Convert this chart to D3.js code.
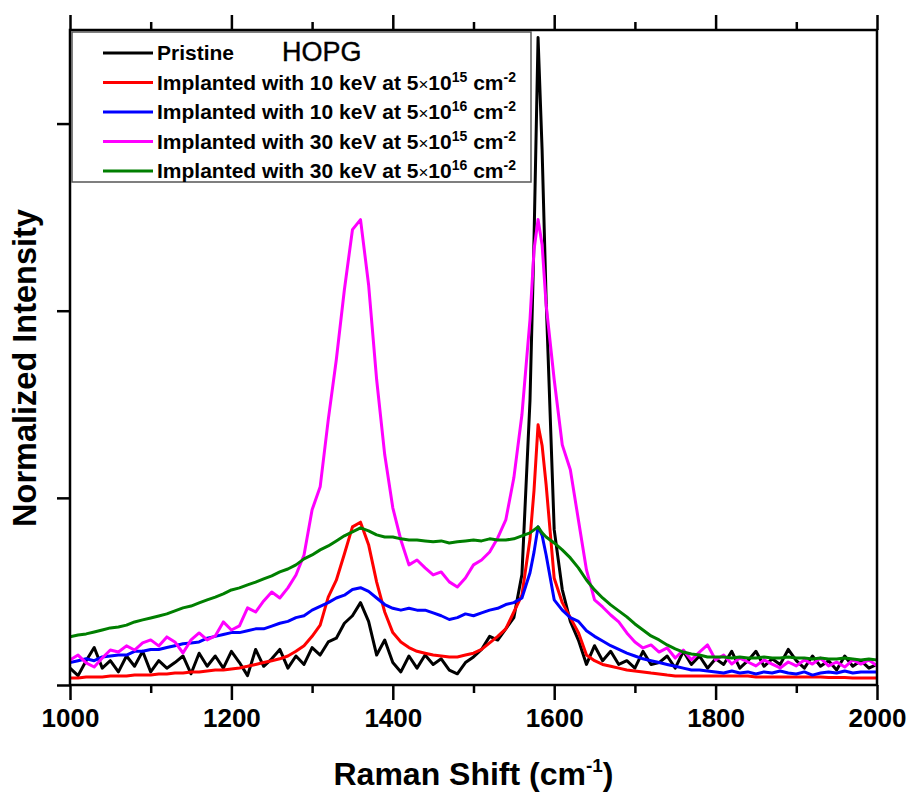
<!DOCTYPE html>
<html>
<head>
<meta charset="utf-8">
<script src="https://cdnjs.cloudflare.com/ajax/libs/d3/7.8.5/d3.min.js"></script>
<style>
  body { margin: 0; background: #fff; }
  svg { display: block; font-family: "Liberation Sans", Arial, sans-serif; }
</style>
</head>
<body>
<div id="chart"></div>
<script>
// Raman shift grid (cm-1), extra points around the G band
var shift = [];
for (var w = 1000; w <= 2000; w += 10) {
  shift.push(w);
  if (w === 1570 || w === 1580) shift.push(w + 5);
}

var pristine = [
  0.09, 0.05, 0.13, 0.20, 0.09, 0.13, 0.07, 0.155, 0.10, 0.18,
  0.07, 0.13, 0.09, 0.12, 0.155, 0.06, 0.17, 0.10, 0.155, 0.09,
  0.18, 0.12, 0.05, 0.19, 0.10, 0.14, 0.19, 0.09, 0.155, 0.11,
  0.20, 0.16, 0.23, 0.25, 0.33, 0.37, 0.44, 0.34, 0.16, 0.24,
  0.12, 0.07, 0.155, 0.09, 0.16, 0.11, 0.14, 0.08, 0.06, 0.12,
  0.15, 0.19, 0.26, 0.24, 0.30, 0.36, 0.59, 1.52, 2.38, 3.46,
  2.86, 2.06, 0.83, 0.51, 0.34, 0.24, 0.11, 0.21, 0.13, 0.18,
  0.11, 0.13, 0.09, 0.18, 0.11, 0.12, 0.155, 0.09, 0.18, 0.11,
  0.155, 0.09, 0.14, 0.11, 0.18, 0.09, 0.13, 0.18, 0.10, 0.14,
  0.11, 0.19, 0.13, 0.09, 0.155, 0.10, 0.13, 0.08, 0.155, 0.10,
  0.13, 0.09, 0.11
];

var kev10Low = [
  0.037, 0.037, 0.043, 0.043, 0.043, 0.048, 0.048, 0.048, 0.053, 0.053,
  0.053, 0.059, 0.059, 0.064, 0.064, 0.07, 0.07, 0.075, 0.08, 0.08,
  0.086, 0.091, 0.10, 0.11, 0.12, 0.13, 0.14, 0.155, 0.18, 0.21,
  0.26, 0.32, 0.47, 0.56, 0.70, 0.845, 0.87, 0.75, 0.55, 0.39,
  0.28, 0.23, 0.20, 0.18, 0.17, 0.16, 0.155, 0.15, 0.15, 0.16,
  0.17, 0.19, 0.225, 0.26, 0.30, 0.39, 0.48, 0.78, 1.04, 1.39,
  1.28, 1.07, 0.57, 0.44, 0.36, 0.28, 0.16, 0.13, 0.11, 0.10,
  0.09, 0.08, 0.075, 0.07, 0.064, 0.059, 0.053, 0.048, 0.048, 0.048,
  0.048, 0.048, 0.048, 0.048, 0.048, 0.048, 0.048, 0.043, 0.043, 0.043,
  0.043, 0.043, 0.043, 0.043, 0.043, 0.043, 0.04, 0.04, 0.04, 0.037,
  0.037, 0.037, 0.037
];

var kev10High = [
  0.12, 0.13, 0.14, 0.13, 0.15, 0.155, 0.16, 0.16, 0.18, 0.18,
  0.19, 0.19, 0.20, 0.21, 0.22, 0.225, 0.23, 0.25, 0.26, 0.27,
  0.28, 0.28, 0.29, 0.30, 0.30, 0.315, 0.33, 0.34, 0.36, 0.37,
  0.40, 0.42, 0.44, 0.465, 0.48, 0.51, 0.52, 0.50, 0.465, 0.43,
  0.41, 0.40, 0.41, 0.40, 0.40, 0.385, 0.37, 0.35, 0.36, 0.38,
  0.37, 0.385, 0.40, 0.41, 0.43, 0.44, 0.465, 0.60, 0.71, 0.845,
  0.80, 0.695, 0.455, 0.40, 0.36, 0.34, 0.29, 0.26, 0.235, 0.21,
  0.19, 0.17, 0.155, 0.14, 0.13, 0.12, 0.11, 0.10, 0.09, 0.08,
  0.08, 0.075, 0.07, 0.064, 0.075, 0.064, 0.07, 0.059, 0.07, 0.064,
  0.075, 0.064, 0.059, 0.07, 0.053, 0.064, 0.07, 0.064, 0.075, 0.064,
  0.07, 0.07, 0.07
];

var kev30Low = [
  0.134, 0.16, 0.118, 0.096, 0.144, 0.187, 0.176, 0.209, 0.187, 0.225,
  0.241, 0.209, 0.257, 0.23, 0.171, 0.241, 0.278, 0.241, 0.262, 0.337,
  0.294, 0.316, 0.412, 0.39, 0.449, 0.497, 0.465, 0.519, 0.588, 0.695,
  0.936, 1.059, 1.417, 1.738, 2.112, 2.433, 2.487, 2.139, 1.631, 1.23,
  0.947, 0.775, 0.642, 0.668, 0.626, 0.588, 0.604, 0.551, 0.524, 0.572,
  0.642, 0.668, 0.711, 0.786, 0.882, 1.107, 1.444, 1.952, 2.326, 2.487,
  2.353, 2.032, 1.631, 1.283, 1.15, 0.882, 0.615, 0.455, 0.417, 0.374,
  0.337, 0.278, 0.23, 0.198, 0.214, 0.176, 0.198, 0.144, 0.187, 0.134,
  0.176, 0.214, 0.134, 0.16, 0.112, 0.144, 0.123, 0.102, 0.134, 0.112,
  0.091, 0.123, 0.102, 0.134, 0.112, 0.144, 0.102, 0.123, 0.096, 0.134,
  0.112, 0.134, 0.102
];

var kev30High = [
  0.257, 0.267, 0.273, 0.283, 0.294, 0.305, 0.31, 0.32, 0.337, 0.348,
  0.358, 0.369, 0.38, 0.396, 0.412, 0.422, 0.439, 0.455, 0.47, 0.487,
  0.508, 0.519, 0.535, 0.55, 0.567, 0.583, 0.604, 0.62, 0.642, 0.674,
  0.695, 0.722, 0.743, 0.77, 0.797, 0.818, 0.84, 0.824, 0.802, 0.791,
  0.791, 0.781, 0.775, 0.775, 0.77, 0.765, 0.77, 0.759, 0.765, 0.77,
  0.775, 0.77, 0.781, 0.775, 0.775, 0.781, 0.797, 0.813, 0.829, 0.845,
  0.813, 0.791, 0.759, 0.722, 0.679, 0.626, 0.561, 0.508, 0.465, 0.428,
  0.396, 0.364, 0.326, 0.294, 0.262, 0.241, 0.214, 0.193, 0.176, 0.166,
  0.16, 0.15, 0.15, 0.15, 0.144, 0.15, 0.144, 0.144, 0.15, 0.144,
  0.144, 0.15, 0.144, 0.144, 0.139, 0.144, 0.139, 0.139, 0.144, 0.139,
  0.134, 0.139, 0.134
];

var seriesData = [pristine, kev10Low, kev10High, kev30Low, kev30High];
var seriesColors = ["#000000", "#ff0000", "#0000ff", "#ff00ff", "#007f00"];
var energies = [null, 10, 10, 30, 30];
var doseExp = [null, 15, 16, 15, 16];

var xMajor = [1000, 1200, 1400, 1600, 1800, 2000];
var xMinor = [1100, 1300, 1500, 1700, 1900];
var yMajor = [0, 1, 2, 3];

var width = 908, height = 792;
var margin = { left: 70, right: 31, top: 30, bottom: 107 };

var svg = d3.select('#chart').append('svg')
  .attr('width', width)
  .attr('height', height);

var x = d3.scaleLinear().domain([1000, 2000]).range([margin.left, width - margin.right]);
var y = d3.scaleLinear().domain([0, 3.5]).range([height - margin.bottom, margin.top]);

var x0 = x.range()[0], x1 = x.range()[1];
var y0 = y.range()[0], y1 = y.range()[1];

svg.append('clipPath').attr('id', 'plot')
  .append('rect')
  .attr('x', x0).attr('y', y1)
  .attr('width', x1 - x0).attr('height', y0 - y1);

// spectra
var line = d3.line()
  .x(function (d, i) { return x(shift[i]); })
  .y(function (d) { return y(d); });

var curves = svg.append('g').attr('clip-path', 'url(#plot)');
seriesData.forEach(function (vals, i) {
  curves.append('path')
    .datum(vals)
    .attr('d', line)
    .attr('fill', 'none')
    .attr('stroke', seriesColors[i])
    .attr('stroke-width', 3)
    .attr('stroke-linejoin', 'round');
});

// axes
function styleAxis(g) {
  g.select('.domain').remove();
  g.selectAll('.tick line').attr('stroke', '#000').attr('stroke-width', 2.5);
}

var bottom = svg.append('g')
  .attr('transform', 'translate(0,' + y0 + ')')
  .call(d3.axisBottom(x).tickValues(xMajor).tickSize(15).tickPadding(9).tickFormat(d3.format('d')));
styleAxis(bottom);
bottom.selectAll('.tick text')
  .attr('fill', '#000')
  .style('font-size', '26px')
  .style('font-weight', 'bold')
  .style('font-family', '"Liberation Sans", Arial, sans-serif');

svg.append('g')
  .attr('transform', 'translate(0,' + y0 + ')')
  .call(d3.axisBottom(x).tickValues(xMinor).tickSize(8).tickFormat(''))
  .call(styleAxis);

svg.append('g')
  .attr('transform', 'translate(0,' + y1 + ')')
  .call(d3.axisTop(x).tickValues(xMajor).tickSize(15).tickFormat(''))
  .call(styleAxis);

svg.append('g')
  .attr('transform', 'translate(0,' + y1 + ')')
  .call(d3.axisTop(x).tickValues(xMinor).tickSize(8).tickFormat(''))
  .call(styleAxis);

svg.append('g')
  .attr('transform', 'translate(' + x0 + ',0)')
  .call(d3.axisLeft(y).tickValues(yMajor).tickSize(13).tickFormat(''))
  .call(styleAxis);

svg.append('rect')
  .attr('x', x0).attr('y', y1)
  .attr('width', x1 - x0).attr('height', y0 - y1)
  .attr('fill', 'none')
  .attr('stroke', '#000')
  .attr('stroke-width', 2.5);

// axis titles
svg.append('text')
  .attr('x', (x0 + x1) / 2)
  .attr('y', 785)
  .attr('text-anchor', 'middle')
  .style('font-size', '32px')
  .style('font-weight', 'bold')
  .text('Raman Shift (cm')
  .append('tspan').attr('dy', -13).style('font-size', '19px').text('-1')
  .select(function () { return this.parentNode; })
  .append('tspan').attr('dy', 13).text(')');

svg.append('text')
  .attr('transform', 'translate(36,' + 368 + ') rotate(-90)')
  .attr('text-anchor', 'middle')
  .style('font-size', '32.5px')
  .style('font-weight', 'bold')
  .text('Normalized Intensity');

// legend
var legend = svg.append('g');
legend.append('rect')
  .attr('x', 72).attr('y', 32)
  .attr('width', 459).attr('height', 150)
  .attr('fill', '#fff')
  .attr('stroke', '#555')
  .attr('stroke-width', 1.5);

var rowY = d3.scaleLinear().domain([0, 4]).range([53, 171]);

seriesColors.forEach(function (c, i) {
  var ly = rowY(i);
  legend.append('line')
    .attr('x1', 103).attr('x2', 153)
    .attr('y1', ly).attr('y2', ly)
    .attr('stroke', c)
    .attr('stroke-width', 3);

  var t = legend.append('text')
    .attr('x', 157)
    .attr('y', ly + 7)
    .style('font-size', '21px')
    .style('font-weight', 'bold');

  if (energies[i] === null) {
    t.text('Pristine');
    return;
  }
  t.append('tspan').text('Implanted with ' + energies[i] + ' keV at 5');
  t.append('tspan').style('font-weight', 'normal').style('font-size', '17px').text('\u00d7');
  t.append('tspan').text('10');
  t.append('tspan').attr('dy', -8).style('font-size', '14px').text(doseExp[i]);
  t.append('tspan').attr('dy', 8).text(' cm');
  t.append('tspan').attr('dy', -8).style('font-size', '14px').text('-2');
});

legend.append('text')
  .attr('x', 282)
  .attr('y', 61)
  .style('font-size', '27px')
  .style('font-weight', '500')
  .attr('stroke', '#000')
  .attr('stroke-width', 0.4)
  .text('HOPG');
</script>
</body>
</html>
